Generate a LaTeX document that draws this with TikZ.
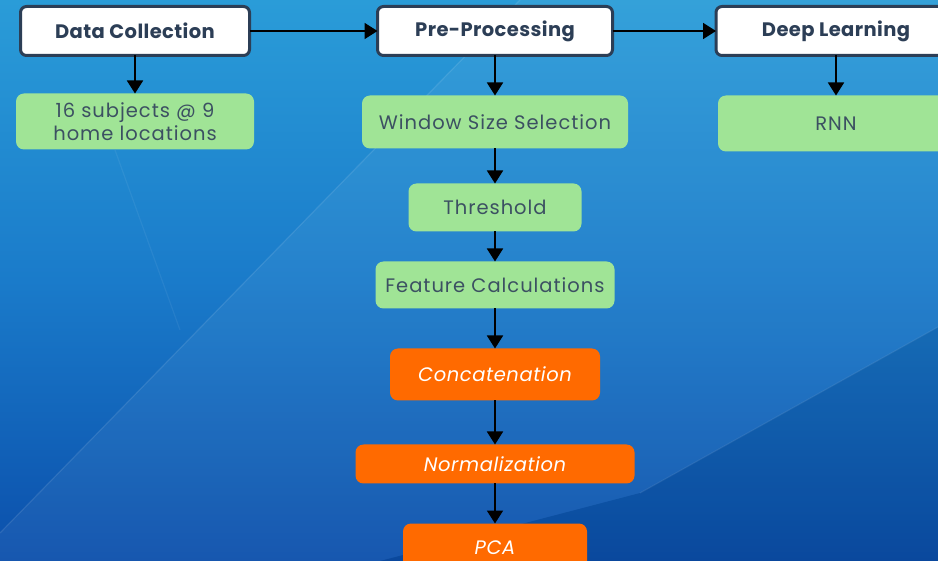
\documentclass[tikz,border=0pt]{standalone}
\usepackage{fontspec}
\setmainfont{Poppins}
\usepackage{tikz}
\usetikzlibrary{positioning,arrows.meta}
\definecolor{bgTop}{HTML}{2A9CD8}
\definecolor{bgMid}{HTML}{1A7BCA}
\definecolor{bgBot}{HTML}{0B4FAB}
\definecolor{hdNavy}{HTML}{2C3E56}
\definecolor{stepGreen}{HTML}{A0E496}
\definecolor{stepText}{HTML}{3C5062}
\definecolor{stepOrange}{HTML}{FF6A00}

\begin{document}
\begin{tikzpicture}[x=1pt, y=-1pt,
                    hdbox/.style={draw=hdNavy, line width=3pt, fill=white,
                                  rounded corners=6pt, outer sep=0pt,
                                  minimum height=49pt, align=center,
                                  font=\fontsize{19.5}{22}\selectfont\bfseries\addfontfeature{LetterSpace=2}, text=hdNavy},
                    grbox/.style={fill=stepGreen, rounded corners=8pt, outer sep=0pt,
                                  align=center, text=stepText,
                                  font=\fontsize{19.5}{23}\selectfont\addfontfeature{LetterSpace=5}},
                    orbox/.style={fill=stepOrange, rounded corners=8pt, outer sep=0pt,
                                  align=center, text=white,
                                  font=\fontsize{19.5}{23}\selectfont\itshape\addfontfeature{LetterSpace=3}},
                    arr/.style={-{Triangle[length=13pt,width=16pt]}, line width=1.8pt, black},
                    node distance=36pt
                ]
                    % background
                    \useasboundingbox (0,0) rectangle (938,561);
                    \fill[top color=bgTop, bottom color=bgBot, middle color=bgMid] (0,0) rectangle (938,561);
                    \fill[white, opacity=0.05] (0,533) -- (520,0) -- (938,0) -- (938,327) -- (640,493) -- (380,561) -- (0,561) -- cycle;
                    \fill[black, opacity=0.08] (380,561) -- (640,493) -- (938,327) -- (938,561) -- cycle;
                    \draw[white, opacity=0.1, line width=1.2pt] (0,533) -- (520,0);
                    \draw[white, opacity=0.06, line width=1.2pt] (115,150) -- (180,330);
                    \draw[white, opacity=0.08, line width=1.2pt] (640,493) -- (938,327);

                    \node[hdbox, minimum width=229pt] (dc) at (135,31) {Data Collection};
                    \node[hdbox, minimum width=235pt] (pp) at (495,31) {Pre-Processing};
                    \node[hdbox, minimum width=240pt] (dl) at (836,31) {Deep Learning};

                    \node[grbox, minimum width=238pt, minimum height=56pt, below=38pt of dc] (subj) {16 subjects @ 9\\home locations};
                    \node[grbox, minimum width=266pt, minimum height=53pt, below=40pt of pp] (win) {Window Size Selection};
                    \node[grbox, minimum width=236pt, minimum height=56pt, below=40pt of dl] (rnn) {RNN};
                    \node[grbox, minimum width=173pt, minimum height=48pt, below=35pt of win] (thr) {Threshold};
                    \node[grbox, minimum width=239pt, minimum height=47pt, below=30pt of thr] (feat) {Feature Calculations};
                    \node[orbox, minimum width=210pt, minimum height=52pt, below=40pt of feat] (conc) {Concatenation};
                    \node[orbox, minimum width=279pt, minimum height=39pt, below=44pt of conc] (norm) {Normalization};
                    \node[orbox, minimum width=184pt, minimum height=48pt, below=40pt of norm] (pca) {PCA};

                    \draw[arr] (dc) -- (pp);
                    \draw[arr] (pp) -- (dl);
                    \draw[arr] (dc) -- (subj);
                    \draw[arr] (pp) -- (win);
                    \draw[arr] (dl) -- (rnn);
                    \draw[arr] (win) -- (thr);
                    \draw[arr] (thr) -- (feat);
                    \draw[arr] (feat) -- (conc);
                    \draw[arr] (conc) -- (norm);
                    \draw[arr] (norm) -- (pca);
                \end{tikzpicture}
\end{document}
